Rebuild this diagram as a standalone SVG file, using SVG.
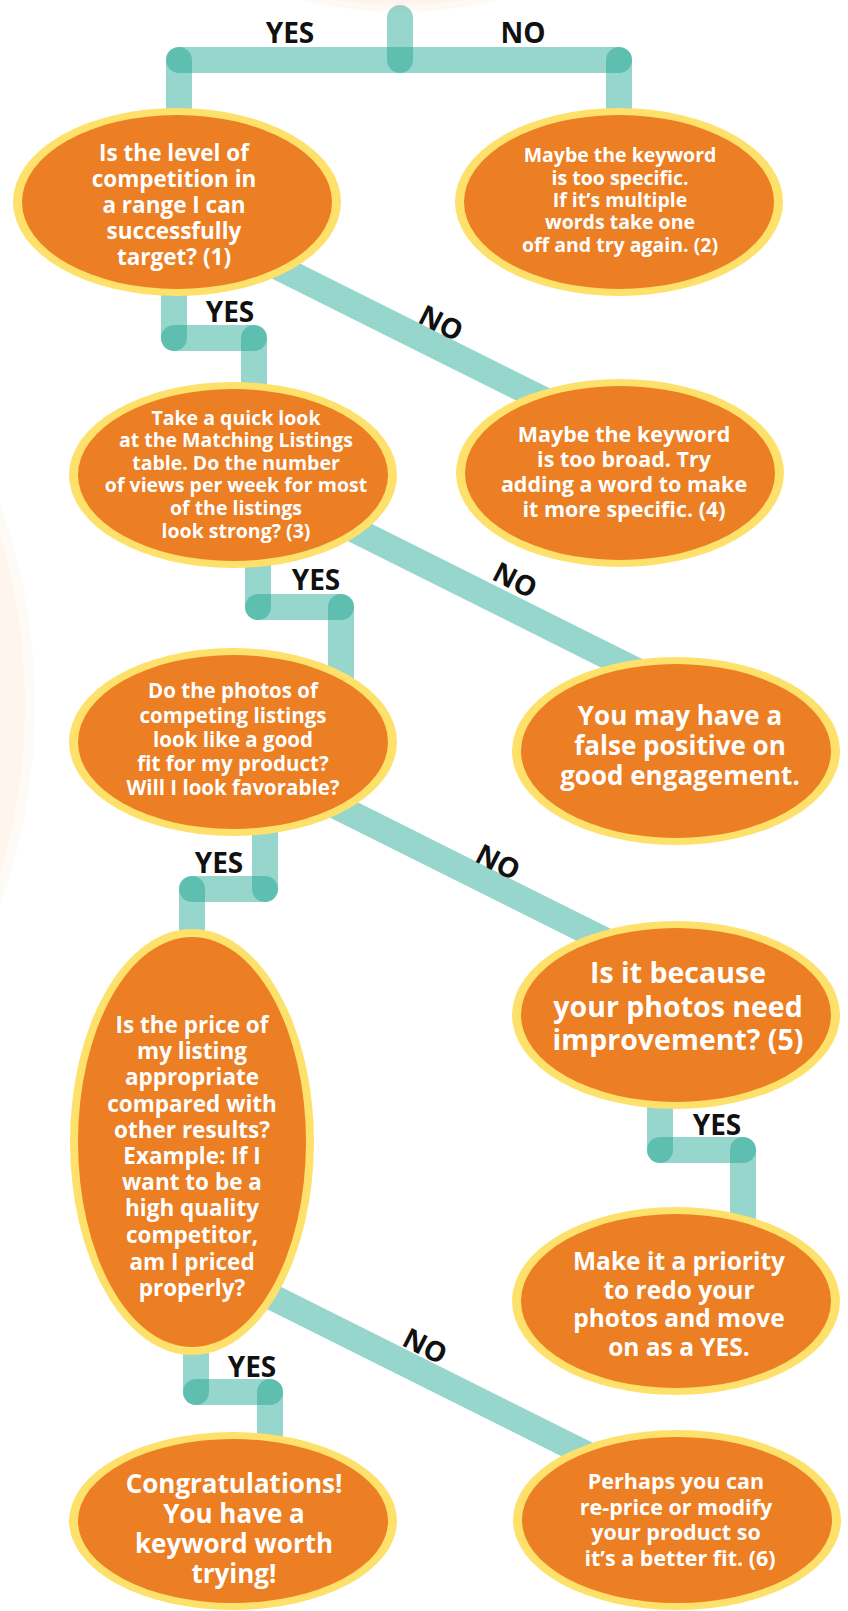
<svg xmlns="http://www.w3.org/2000/svg" width="848" height="1611" viewBox="0 0 848 1611">
<style>
.c{stroke:#19a490;stroke-opacity:0.45;stroke-width:26;stroke-linecap:round;fill:none}
.ring{fill:#fee16a}
.core{fill:#ec7e24}
.t{font-family:"Open Sans","DejaVu Sans",sans-serif;font-weight:700;fill:#ffffff;text-anchor:middle}
.lbl{font-family:"Open Sans","DejaVu Sans",sans-serif;font-weight:700;fill:#111111;text-anchor:middle;font-size:28px}
</style>
<rect width="848" height="1611" fill="#ffffff"/>
<g id="background">
<circle cx="400" cy="-411" r="423" fill="#fef9f3"/>
<circle cx="400" cy="-411" r="416" fill="#fdf5ed"/>
<circle cx="-554" cy="705" r="589" fill="#fefaf5"/>
<circle cx="-554" cy="705" r="579" fill="#fdf5ee"/>
</g>
<g id="connectors">
<line class="c" x1="400" y1="18" x2="400" y2="60"/>
<line class="c" x1="179" y1="60" x2="619" y2="60"/>
<line class="c" x1="179" y1="60" x2="179" y2="130"/>
<line class="c" x1="619" y1="60" x2="619" y2="130"/>
<line class="c" x1="174" y1="280" x2="174" y2="338"/>
<line class="c" x1="174" y1="338" x2="254" y2="338"/>
<line class="c" x1="254" y1="338" x2="254" y2="410"/>
<line class="c" x1="258" y1="550" x2="258" y2="607"/>
<line class="c" x1="258" y1="607" x2="341" y2="607"/>
<line class="c" x1="341" y1="607" x2="341" y2="700"/>
<line class="c" x1="265" y1="820" x2="265" y2="889"/>
<line class="c" x1="265" y1="889" x2="192" y2="889"/>
<line class="c" x1="192" y1="889" x2="192" y2="960"/>
<line class="c" x1="196" y1="1340" x2="196" y2="1392"/>
<line class="c" x1="196" y1="1392" x2="270" y2="1392"/>
<line class="c" x1="270" y1="1392" x2="270" y2="1450"/>
<line class="c" x1="660" y1="1090" x2="660" y2="1150"/>
<line class="c" x1="660" y1="1150" x2="743" y2="1150"/>
<line class="c" x1="743" y1="1150" x2="743" y2="1230"/>
<line class="c" x1="260" y1="258" x2="600" y2="428"/>
<line class="c" x1="330" y1="517.5" x2="650" y2="677.5"/>
<line class="c" x1="330" y1="803" x2="650" y2="963"/>
<line class="c" x1="260" y1="1291" x2="650" y2="1486"/>
<text class="lbl" x="290" y="43">YES</text>
<text class="lbl" x="523" y="43">NO</text>
<text class="lbl" x="230" y="322">YES</text>
<text class="lbl" x="316" y="590">YES</text>
<text class="lbl" x="219" y="873">YES</text>
<text class="lbl" x="252" y="1377">YES</text>
<text class="lbl" x="717" y="1135">YES</text>
<text class="lbl" transform="translate(441,323) rotate(27)" y="10">NO</text>
<text class="lbl" transform="translate(515,580) rotate(27)" y="10">NO</text>
<text class="lbl" transform="translate(498,862) rotate(27)" y="10">NO</text>
<text class="lbl" transform="translate(425,1346) rotate(27)" y="10">NO</text>
</g>
<g id="n1">
<ellipse class="ring" cx="177" cy="202" rx="164" ry="94"/>
<ellipse class="core" cx="177" cy="202" rx="155" ry="87"/>
<text class="t" font-size="22.5"><tspan x="174" y="161">Is the level of</tspan><tspan x="174" y="187">competition in</tspan><tspan x="174" y="213">a range I can</tspan><tspan x="174" y="239">successfully</tspan><tspan x="174" y="265">target? (1)</tspan></text>
</g>
<g id="n2">
<ellipse class="ring" cx="619" cy="202" rx="164" ry="94"/>
<ellipse class="core" cx="619" cy="202" rx="155" ry="87"/>
<text class="t" font-size="19.5"><tspan x="620" y="162">Maybe the keyword</tspan><tspan x="620" y="185">is too specific.</tspan><tspan x="620" y="207">If it’s multiple</tspan><tspan x="620" y="229">words take one</tspan><tspan x="620" y="252">off and try again. (2)</tspan></text>
</g>
<g id="n3">
<ellipse class="ring" cx="233" cy="475" rx="164" ry="93"/>
<ellipse class="core" cx="233" cy="475" rx="155" ry="86"/>
<text class="t" font-size="19.5"><tspan x="236" y="425">Take a quick look</tspan><tspan x="236" y="447">at the Matching Listings</tspan><tspan x="236" y="470">table. Do the number</tspan><tspan x="236" y="492">of views per week for most</tspan><tspan x="236" y="515">of the listings</tspan><tspan x="236" y="538">look strong? (3)</tspan></text>
</g>
<g id="n4">
<ellipse class="ring" cx="620" cy="473" rx="164" ry="94"/>
<ellipse class="core" cx="620" cy="473" rx="155" ry="87"/>
<text class="t" font-size="21.5"><tspan x="624" y="442">Maybe the keyword</tspan><tspan x="624" y="467">is too broad. Try</tspan><tspan x="624" y="492">adding a word to make</tspan><tspan x="624" y="517">it more specific. (4)</tspan></text>
</g>
<g id="n5">
<ellipse class="ring" cx="233" cy="742" rx="164" ry="94"/>
<ellipse class="core" cx="233" cy="742" rx="155" ry="87"/>
<text class="t" font-size="20.5"><tspan x="233" y="698">Do the photos of</tspan><tspan x="233" y="723">competing listings</tspan><tspan x="233" y="747">look like a good</tspan><tspan x="233" y="771">fit for my product?</tspan><tspan x="233" y="795">Will I look favorable?</tspan></text>
</g>
<g id="n6">
<ellipse class="ring" cx="676" cy="751" rx="164" ry="94"/>
<ellipse class="core" cx="676" cy="751" rx="155" ry="87"/>
<text class="t" font-size="26"><tspan x="680" y="725">You may have a</tspan><tspan x="680" y="755">false positive on</tspan><tspan x="680" y="785">good engagement.</tspan></text>
</g>
<g id="n7">
<ellipse class="ring" cx="676" cy="1015" rx="164" ry="94"/>
<ellipse class="core" cx="676" cy="1015" rx="155" ry="87"/>
<text class="t" font-size="28.5"><tspan x="678" y="983">Is it because</tspan><tspan x="678" y="1017">your photos need</tspan><tspan x="678" y="1050">improvement? (5)</tspan></text>
</g>
<g id="n8">
<ellipse class="ring" cx="676" cy="1301" rx="164" ry="94"/>
<ellipse class="core" cx="676" cy="1301" rx="155" ry="87"/>
<text class="t" font-size="24.5"><tspan x="679" y="1270">Make it a priority</tspan><tspan x="679" y="1299">to redo your</tspan><tspan x="679" y="1327">photos and move</tspan><tspan x="679" y="1356">on as a YES.</tspan></text>
</g>
<g id="n9">
<ellipse class="ring" cx="192" cy="1142" rx="122" ry="213"/>
<ellipse class="core" cx="192" cy="1142" rx="114" ry="205"/>
<text class="t" font-size="22.5"><tspan x="192" y="1033">Is the price of</tspan><tspan x="192" y="1059">my listing</tspan><tspan x="192" y="1085">appropriate</tspan><tspan x="192" y="1112">compared with</tspan><tspan x="192" y="1138">other results?</tspan><tspan x="192" y="1164">Example: If I</tspan><tspan x="192" y="1190">want to be a</tspan><tspan x="192" y="1216">high quality</tspan><tspan x="192" y="1243">competitor,</tspan><tspan x="192" y="1270">am I priced</tspan><tspan x="192" y="1296">properly?</tspan></text>
</g>
<g id="n10">
<ellipse class="ring" cx="677" cy="1520" rx="164" ry="90"/>
<ellipse class="core" cx="677" cy="1520" rx="155" ry="83"/>
<text class="t" font-size="21.5"><tspan x="676" y="1489">Perhaps you can</tspan><tspan x="676" y="1515">re-price or modify</tspan><tspan x="676" y="1540">your product so</tspan><tspan x="680" y="1566">it’s a better fit. (6)</tspan></text>
</g>
<g id="n11">
<ellipse class="ring" cx="233" cy="1521" rx="164" ry="89"/>
<ellipse class="core" cx="233" cy="1521" rx="155" ry="82"/>
<text class="t" font-size="26"><tspan x="234" y="1493">Congratulations!</tspan><tspan x="234" y="1523">You have a</tspan><tspan x="234" y="1553">keyword worth</tspan><tspan x="234" y="1583">trying!</tspan></text>
</g>
</svg>
